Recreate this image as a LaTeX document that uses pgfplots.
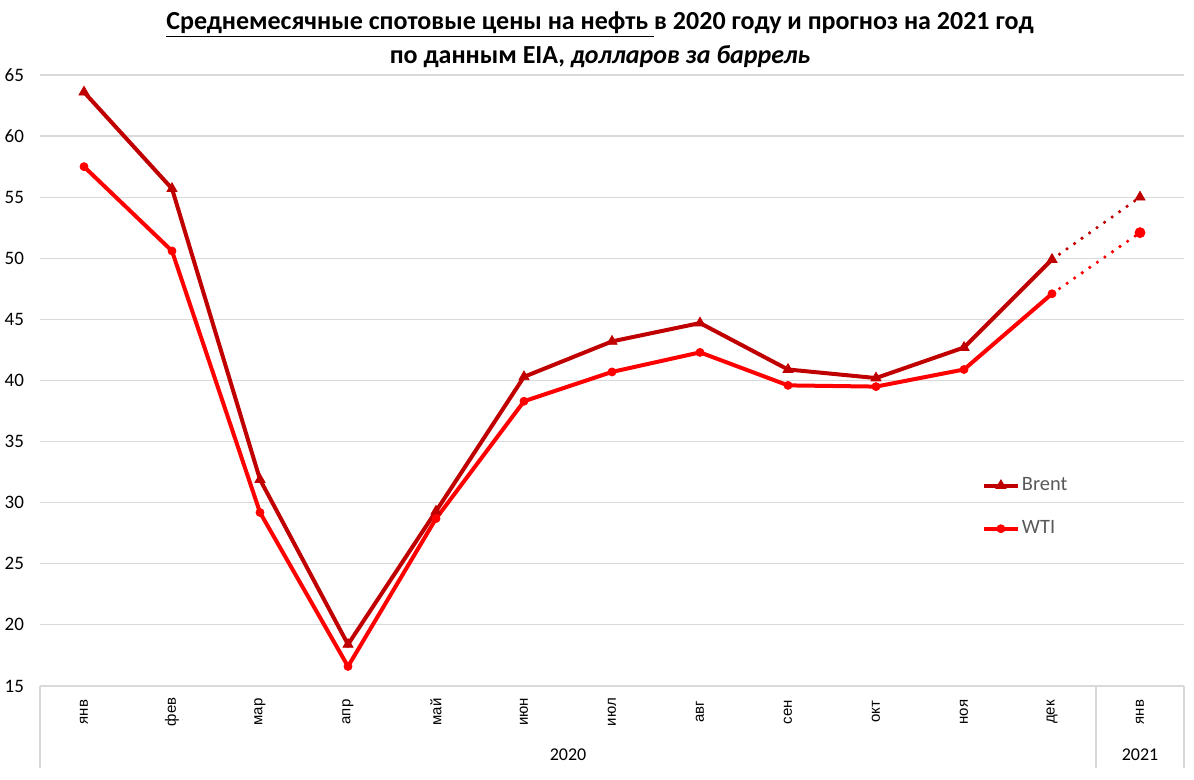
\documentclass[border=0pt]{standalone}
\usepackage{fontspec}
\setmainfont{Carlito}
\newfontfamily\arialf{Liberation Sans}
\usepackage{pgfplots}
\pgfplotsset{compat=1.18}
\definecolor{brent}{HTML}{C00000}
\definecolor{wti}{HTML}{FF0000}
\definecolor{gridc}{HTML}{D9D9D9}
\definecolor{legtxt}{HTML}{595959}

\begin{document}
\begin{tikzpicture}
\begin{axis}[
    at={(20pt,47pt)}, anchor=south west,
    scale only axis,
    width=572pt, height=305.5pt,
    xmin=-0.5, xmax=12.5,
    ymin=15, ymax=65,
    ytick={15,20,...,65},
    xtick={0,...,12},
    xticklabels={янв,фев,мар,апр,май,июн,июл,авг,сен,окт,ноя,дек,янв},
    ymajorgrids,
    grid style={gridc, line width=0.6pt},
    axis line style={draw=none},
    tick style={draw=none},
    clip=false,
    /pgf/number format/assume math mode=true,
    yticklabel style={font=\fontsize{9.5}{10}\selectfont, xshift=-4.5pt},
    xticklabel style={font=\arialf\fontsize{7.5}{9}\selectfont, yshift=-13pt, rotate=90, anchor=center},
    legend style={at={(rel axis cs:0.823,0.345)}, anchor=north west,
        draw=none, fill=none, inner sep=0pt, row sep=11.5pt,
        nodes={inner sep=1pt},
        font=\fontsize{10.2}{12}\selectfont, text=legtxt},
    legend image code/.code={
        \draw[mark repeat=2, mark phase=2] plot coordinates {(0pt,0pt) (8.5pt,0pt) (17pt,0pt)};},
    legend cell align=left,
]
    \addplot[brent, line width=2pt, mark=triangle*, mark size=2.9pt,
        mark options={solid, line width=0.4pt}]
        coordinates {(0,63.6) (1,55.7) (2,31.9) (3,18.4) (4,29.3) (5,40.3)
                     (6,43.2) (7,44.7) (8,40.9) (9,40.2) (10,42.7) (11,49.9)};
    \addplot[wti, line width=2pt, mark=*, mark size=2pt,
        mark options={solid, line width=0.4pt}]
        coordinates {(0,57.5) (1,50.6) (2,29.2) (3,16.6) (4,28.7) (5,38.3)
                     (6,40.7) (7,42.3) (8,39.6) (9,39.5) (10,40.9) (11,47.1)};
    \legend{Brent, WTI}

    % forecast: dotted
    \addplot[brent, line width=1.8pt, line cap=round, dash pattern=on 0pt off 4.6pt, forget plot]
        coordinates {(11,49.9) (12,55.0)};
    \addplot[brent, only marks, mark=triangle*, mark size=2.9pt, forget plot]
        coordinates {(12,55.0)};
    \addplot[wti, line width=1.8pt, line cap=round, dash pattern=on 0pt off 4.6pt, forget plot]
        coordinates {(11,47.1) (12,52.1)};
    \addplot[wti, only marks, mark=*, mark size=2.5pt, forget plot]
        coordinates {(12,52.1)};

    % multi-level category axis
    \draw[gridc, line width=0.6pt] (axis cs:-0.5,15) -- ++(0pt,-41pt);
    \draw[gridc, line width=0.6pt] (axis cs:11.5,15) -- ++(0pt,-41pt);
    \draw[gridc, line width=0.6pt] (axis cs:12.5,15) -- ++(0pt,-41pt);
    \node[font=\fontsize{9}{10}\selectfont, yshift=-34.5pt] at (axis cs:5.5,15) {2020};
    \node[font=\fontsize{9}{10}\selectfont, yshift=-34.5pt] at (axis cs:12,15) {2021};
\end{axis}

\node[font=\bfseries\fontsize{13}{15}\selectfont] at (300pt,377.5pt)
    {\underline{Среднемесячные спотовые цены на нефть }в 2020 году и прогноз на 2021 год};
\node[font=\bfseries\fontsize{13}{15}\selectfont] at (300pt,361.5pt)
    {по данным EIA, \textit{долларов за баррель}};

\pgfresetboundingbox
\path[use as bounding box] (0,0) rectangle (597pt,390pt);
\end{tikzpicture}
\end{document}
